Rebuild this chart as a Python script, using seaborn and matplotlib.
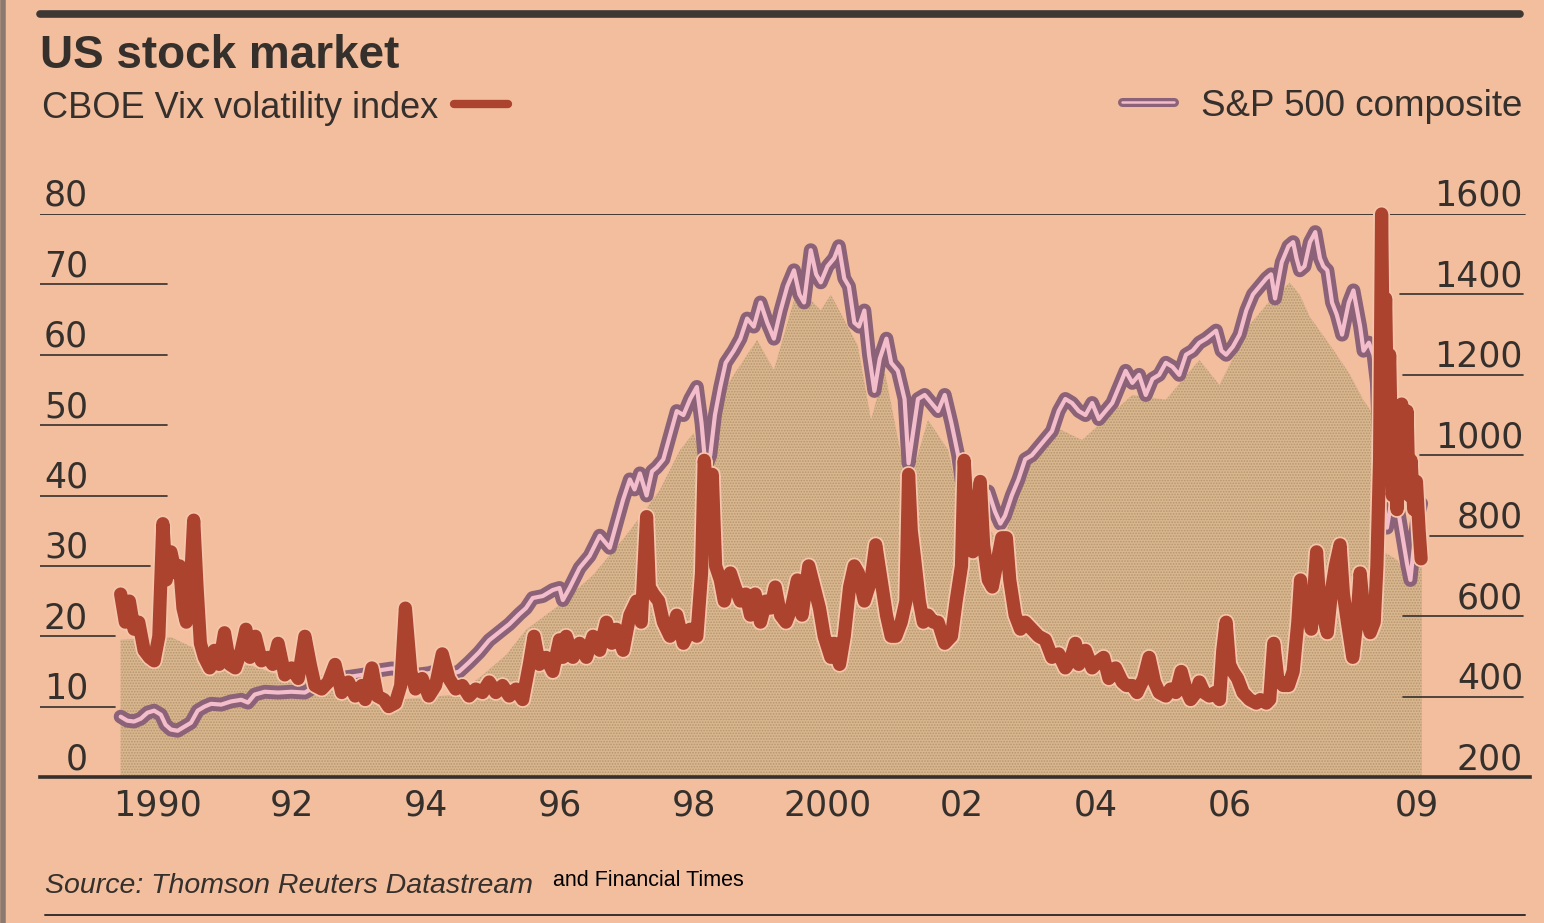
import numpy as np
import pandas as pd
import matplotlib
matplotlib.use("Agg")
import matplotlib.pyplot as plt
import matplotlib.patheffects as pe
import matplotlib.transforms as mtransforms
from matplotlib import font_manager as fm
import seaborn as sns

# ---------------- data ----------------
vix_years = [
    1989.95, 1990.02, 1990.08, 1990.15, 1990.22, 1990.30, 1990.38, 1990.45, 1990.52, 1990.58,
    1990.63, 1990.70, 1990.77, 1990.83, 1990.88, 1990.93, 1991.00, 1991.04, 1991.09, 1991.14,
    1991.20, 1991.28, 1991.35, 1991.42, 1991.50, 1991.58, 1991.66, 1991.75, 1991.82, 1991.88,
    1991.96, 1992.05, 1992.15, 1992.22, 1992.30, 1992.40, 1992.50, 1992.60, 1992.70, 1992.78,
    1992.85, 1992.95, 1993.05, 1993.15, 1993.25, 1993.35, 1993.45, 1993.55, 1993.60, 1993.70,
    1993.78, 1993.88, 1993.95, 1994.05, 1994.13, 1994.20, 1994.28, 1994.35, 1994.45, 1994.55,
    1994.65, 1994.75, 1994.85, 1994.95, 1995.05, 1995.15, 1995.25, 1995.35, 1995.45, 1995.55,
    1995.65, 1995.75, 1995.85, 1995.95, 1996.05, 1996.12, 1996.20, 1996.30, 1996.40, 1996.50,
    1996.55, 1996.60, 1996.70, 1996.80, 1996.90, 1997.00, 1997.10, 1997.20, 1997.28, 1997.35,
    1997.45, 1997.55, 1997.65, 1997.72, 1997.80, 1997.84, 1997.90, 1997.98, 1998.05, 1998.15,
    1998.25, 1998.35, 1998.45, 1998.55, 1998.62, 1998.66, 1998.72, 1998.78, 1998.83, 1998.90,
    1998.96, 1999.05, 1999.12, 1999.20, 1999.28, 1999.35, 1999.42, 1999.50, 1999.58, 1999.65,
    1999.72, 1999.80, 1999.88, 1999.96, 2000.05, 2000.12, 2000.22, 2000.30, 2000.38, 2000.45,
    2000.55, 2000.60, 2000.68, 2000.75, 2000.83, 2000.90, 2000.96, 2001.05, 2001.15, 2001.22,
    2001.30, 2001.38, 2001.45, 2001.52, 2001.60, 2001.67, 2001.71, 2001.75, 2001.80, 2001.87,
    2001.93, 2002.00, 2002.08, 2002.15, 2002.25, 2002.35, 2002.42, 2002.50, 2002.54, 2002.60,
    2002.67, 2002.72, 2002.78, 2002.83, 2002.90, 2002.96, 2003.02, 2003.10, 2003.17, 2003.22,
    2003.30, 2003.38, 2003.45, 2003.55, 2003.65, 2003.75, 2003.85, 2003.95, 2004.05, 2004.12,
    2004.20, 2004.25, 2004.35, 2004.45, 2004.55, 2004.62, 2004.70, 2004.80, 2004.90, 2004.96,
    2005.05, 2005.12, 2005.22, 2005.30, 2005.38, 2005.45, 2005.55, 2005.62, 2005.70, 2005.78,
    2005.85, 2005.92, 2006.00, 2006.05, 2006.12, 2006.20, 2006.28, 2006.35, 2006.40, 2006.45,
    2006.50, 2006.55, 2006.62, 2006.70, 2006.80, 2006.90, 2006.96, 2007.05, 2007.10, 2007.16,
    2007.22, 2007.30, 2007.38, 2007.45, 2007.52, 2007.56, 2007.60, 2007.66, 2007.72, 2007.80,
    2007.85, 2007.92, 2007.96, 2008.03, 2008.08, 2008.15, 2008.20, 2008.26, 2008.34, 2008.40,
    2008.45, 2008.50, 2008.60, 2008.66, 2008.70, 2008.74, 2008.77, 2008.80, 2008.83, 2008.86,
    2008.89, 2008.93, 2008.97, 2009.00, 2009.03, 2009.07, 2009.11, 2009.15, 2009.18, 2009.21,
    2009.25, 2009.29, 2009.33, 2009.36,
]
vix_values = [
    26, 22, 25, 21, 22, 18, 17, 16.5, 20, 36,
    28, 32, 29, 30, 24, 22, 29, 36.5, 27, 19,
    17, 15.5, 18, 16, 20.5, 16, 15.5, 18, 21, 17,
    20, 16.5, 17, 16, 19, 14.5, 15.5, 14, 20, 16,
    13, 12.5, 13.5, 16, 12, 13.5, 11.5, 13, 11, 15.5,
    11.5, 11, 10, 10.5, 13, 24, 15, 12.5, 14, 11.5,
    13, 17.5, 14, 12.5, 13, 11.5, 12.5, 12, 13.5, 12,
    13, 11.5, 12.5, 11, 16, 20, 16, 17, 15, 19.5,
    17, 20, 17, 19, 17, 20, 18, 22, 19, 21,
    18, 23, 25, 22, 37, 27, 26, 25, 22, 20,
    23, 19, 21, 20, 29, 45, 39, 43, 30, 28,
    25, 29, 27, 25, 26, 23, 26, 22, 25, 24,
    27, 23, 22, 24, 28, 23, 30, 27, 24, 20,
    17, 19, 16, 20, 27, 30, 29, 25, 28, 33,
    28, 23, 20, 20, 22, 25, 43, 35, 31, 25,
    22, 23, 22, 22, 19, 20, 25, 30, 45, 35,
    32, 37, 42, 33, 28, 27, 30, 34, 34, 28,
    23, 21, 22, 21, 20, 19.5, 17, 17.5, 15.5, 16.5,
    19, 16, 18, 15.5, 16.5, 17, 14, 15.5, 13.5, 13,
    13, 12, 14, 17, 13.5, 12, 11.5, 12.5, 12, 15,
    12.5, 11, 12, 13.5, 12, 11.5, 12, 11, 18, 22,
    16, 15, 14, 12, 11, 10.5, 11, 10.5, 11, 19,
    14, 13, 13, 15, 22, 28, 24, 26, 21, 32,
    24, 22, 20.5, 27, 30, 33, 26, 22, 17, 22,
    29, 24, 20.5, 22, 30, 45, 80, 55, 68, 50,
    60, 40, 45, 38, 48, 53, 44, 52, 40, 45,
    38, 42, 35, 31,
]

spx_years = [
    1989.95, 1990.05, 1990.15, 1990.25, 1990.35, 1990.45, 1990.55, 1990.62, 1990.70, 1990.80,
    1990.90, 1991.00, 1991.10, 1991.20, 1991.30, 1991.45, 1991.60, 1991.75, 1991.85, 1991.95,
    1992.10, 1992.30, 1992.50, 1992.70, 1992.85, 1993.00, 1993.20, 1993.40, 1993.60, 1993.80,
    1994.00, 1994.15, 1994.25, 1994.40, 1994.55, 1994.70, 1994.85, 1995.00, 1995.15, 1995.30,
    1995.45, 1995.60, 1995.75, 1995.90, 1996.00, 1996.10, 1996.25, 1996.40, 1996.50, 1996.55,
    1996.65, 1996.80, 1996.95, 1997.10, 1997.25, 1997.35, 1997.45, 1997.55, 1997.62, 1997.70,
    1997.80, 1997.88, 1997.95, 1998.05, 1998.15, 1998.25, 1998.35, 1998.45, 1998.55, 1998.62,
    1998.68, 1998.75, 1998.82, 1998.90, 1998.98, 1999.10, 1999.20, 1999.30, 1999.40, 1999.50,
    1999.60, 1999.70, 1999.80, 1999.90, 2000.00, 2000.08, 2000.15, 2000.25, 2000.33, 2000.40,
    2000.50, 2000.60, 2000.67, 2000.75, 2000.82, 2000.90, 2000.97, 2001.05, 2001.12, 2001.20,
    2001.28, 2001.38, 2001.45, 2001.55, 2001.65, 2001.71, 2001.78, 2001.85, 2001.95, 2002.05,
    2002.15, 2002.25, 2002.35, 2002.45, 2002.55, 2002.62, 2002.72, 2002.80, 2002.90, 2003.00,
    2003.08, 2003.15, 2003.25, 2003.35, 2003.45, 2003.55, 2003.65, 2003.75, 2003.85, 2003.95,
    2004.05, 2004.15, 2004.25, 2004.35, 2004.45, 2004.55, 2004.65, 2004.75, 2004.85, 2004.95,
    2005.05, 2005.15, 2005.25, 2005.35, 2005.45, 2005.55, 2005.65, 2005.75, 2005.85, 2005.95,
    2006.05, 2006.15, 2006.30, 2006.38, 2006.45, 2006.55, 2006.65, 2006.75, 2006.85, 2006.95,
    2007.05, 2007.12, 2007.18, 2007.28, 2007.38, 2007.45, 2007.50, 2007.55, 2007.62, 2007.70,
    2007.78, 2007.85, 2007.90, 2007.96, 2008.03, 2008.10, 2008.18, 2008.28, 2008.35, 2008.45,
    2008.50, 2008.58, 2008.65, 2008.70, 2008.75, 2008.80, 2008.85, 2008.90, 2008.96, 2009.02,
    2009.10, 2009.15, 2009.20, 2009.25, 2009.30, 2009.36,
]
spx_values = [
    350, 340, 338, 345, 360, 365, 355, 330, 318, 315,
    325, 335, 365, 375, 382, 380, 388, 392, 385, 405,
    412, 410, 412, 410, 425, 437, 445, 450, 455, 465,
    470, 465, 445, 455, 458, 465, 455, 462, 485, 510,
    540, 560, 580, 605, 620, 645, 650, 665, 670, 640,
    670, 720, 750, 800, 770, 830, 890, 940, 915, 955,
    900, 960, 970, 990, 1050, 1110, 1100, 1140, 1170, 1080,
    970, 1000, 1100, 1170, 1230, 1260, 1290, 1340, 1320, 1380,
    1330, 1290, 1360, 1420, 1460, 1400, 1380, 1510, 1450, 1430,
    1470, 1490, 1520, 1440, 1420, 1330, 1320, 1360, 1250, 1160,
    1240, 1290, 1230, 1210, 1140, 980, 1060, 1140, 1150, 1130,
    1110, 1150, 1080, 1000, 880, 920, 840, 880, 910, 860,
    830, 850, 900, 940, 990, 1000, 1020, 1040, 1060, 1110,
    1140, 1130, 1110, 1100, 1130, 1090, 1110, 1130, 1170, 1210,
    1180, 1200, 1150, 1190, 1200, 1230, 1220, 1200, 1250, 1260,
    1280, 1290, 1310, 1260, 1250, 1270, 1300, 1360, 1400, 1420,
    1440, 1450, 1390, 1480, 1520, 1530, 1490, 1460, 1470, 1530,
    1555, 1490, 1470, 1460, 1380, 1350, 1300, 1380, 1410, 1320,
    1260, 1280, 1250, 1180, 950, 880, 820, 870, 880, 860,
    780, 730, 690, 770, 840, 880,
]

# top edge of the tan shaded area (right-hand scale)
shade_years = [
    1989.95, 1990.70, 1991.10, 1992.00, 1993.00, 1994.00, 1994.90, 1995.30, 1995.70, 1996.00,
    1996.50, 1997.00, 1997.50, 1997.75, 1998.00, 1998.30, 1998.50, 1998.70, 1998.95, 1999.45,
    1999.70, 2000.00, 2000.10, 2000.40, 2000.55, 2000.95, 2001.15, 2001.35, 2001.70, 2002.00,
    2002.30, 2002.50, 2002.85, 2003.10, 2003.40, 2003.90, 2004.30, 2005.05, 2005.55, 2006.05,
    2006.35, 2006.80, 2007.05, 2007.40, 2007.55, 2007.70, 2008.05, 2008.30, 2008.50, 2008.65,
    2008.72, 2008.80, 2009.00, 2009.20, 2009.37,
]
shade_values = [
    541, 548, 516, 471, 421, 391, 404, 446, 503, 566,
    628, 702, 802, 857, 914, 1013, 1055, 963, 1162, 1287,
    1212, 1386, 1411, 1361, 1399, 1274, 1088, 1212, 914, 1088,
    1013, 864, 839, 765, 951, 1070, 1038, 1150, 1138, 1237,
    1175, 1324, 1374, 1429, 1399, 1344, 1262, 1200, 1137, 1100,
    820, 760, 740, 680, 740,
]

vix_ticks = [0, 10, 20, 30, 40, 50, 60, 70, 80]
spx_ticks = [200, 400, 600, 800, 1000, 1200, 1400, 1600]
year_ticks = list(range(1990, 2010))
year_label_pos = [1990.5, 1992.5, 1994.5, 1996.5, 1998.5, 2000.5, 2002.5, 2004.5, 2006.5, 2009.3]
year_labels = ["1990", "92", "94", "96", "98", "2000", "02", "04", "06", "09"]

# ---------------- style ----------------
BG = "#F2BE9E"
FILL = "#D8B68E"
DOT = "#B8956F"
VIX_C = "#AC432F"
HALO = "#F6C6AC"
SPX_OUT = "#8B6277"
SPX_IN = "#F3BDCB"
DARK = "#35302C"

sns.set_theme(style="white")
names = {f.name for f in fm.fontManager.ttflist}
SANS = "Liberation Sans" if "Liberation Sans" in names else "DejaVu Sans"
NUM = "DejaVu Sans"
plt.rcParams["font.family"] = [SANS, "DejaVu Sans"]
plt.rcParams["hatch.linewidth"] = 0.8
plt.rcParams["hatch.color"] = DOT

W, H = 1544, 923
fig = plt.figure(figsize=(W / 100, H / 100), dpi=100)
fig.patch.set_facecolor(BG)


def fx(x):
    return x / W


def fy(y):
    return 1 - y / H


AX_L, AX_R, AX_T, AX_B = 40, 1530, 214, 777
PX_PER_YEAR = 67.0
X0_PX = 124.0  # pixel of 1 Jan 1990

ax = fig.add_axes([fx(AX_L), fy(AX_B), (AX_R - AX_L) / W, (AX_B - AX_T) / H])
ax.set_facecolor("none")
ax.set_xlim(1990 + (AX_L - X0_PX) / PX_PER_YEAR, 1990 + (AX_R - X0_PX) / PX_PER_YEAR)
ax.set_ylim(200, 1600)

ax_v = ax.twinx()
ax_v.set_ylim(0, 80)
ax_v.patch.set_visible(False)


def afrac(px):
    return (px - AX_L) / (AX_R - AX_L)


# shaded area
ax.fill_between(shade_years, 200, shade_values, facecolor=FILL, edgecolor="none", linewidth=0, zorder=1)
ax.fill_between(shade_years, 200, shade_values, facecolor="none", edgecolor=DOT, hatch="......",
                linewidth=0, zorder=1.1)

# gridlines (only visible in the margins, as in the original)
left_ext = {10: 115, 20: 115, 30: 150, 40: 167, 50: 167, 60: 167, 70: 167}
for v, xe in left_ext.items():
    ax_v.axhline(v, xmin=0, xmax=afrac(xe), color=DARK, lw=1.2, zorder=1.5)
ax_v.axhline(80, xmin=0, xmax=afrac(1525), color=DARK, lw=1.3, zorder=1.5)
right_ext = {400: 1403, 600: 1403, 800: 1430, 1000: 1420, 1200: 1403, 1400: 1400}
for s, xs in right_ext.items():
    ax.axhline(s, xmin=afrac(xs), xmax=afrac(1523), color=DARK, lw=1.2, zorder=1.5)

# S&P 500 line (double line: purple outline, pink core)
sns.lineplot(x=spx_years, y=spx_values, ax=ax, color=SPX_IN, linewidth=3.0,
             estimator=None, sort=False, zorder=3)
l_spx = ax.lines[-1]
l_spx.set_path_effects([pe.Stroke(linewidth=10, foreground=SPX_OUT), pe.Normal()])

# VIX line
sns.lineplot(x=vix_years, y=vix_values, ax=ax_v, color=VIX_C, linewidth=9.5,
             estimator=None, sort=False, zorder=4)
l_vix = ax_v.lines[-1]
l_vix.set_clip_on(False)
l_vix.set_path_effects([pe.Stroke(linewidth=12, foreground=HALO), pe.Normal()])

# axes cosmetics
for sp in ax.spines.values():
    sp.set_visible(False)
for sp in ax_v.spines.values():
    sp.set_visible(False)
ax.spines["bottom"].set_visible(True)
ax.spines["bottom"].set_linewidth(2.6)
ax.spines["bottom"].set_color(DARK)
ax.spines["bottom"].set_zorder(5)

ax.set_xticks(year_ticks)
ax.tick_params(axis="x", which="major", direction="in", length=11, width=1.1, color=DARK,
               labelbottom=False, bottom=True)
ax.set_xticks(year_label_pos, minor=True)
ax.set_xticklabels(year_labels, minor=True, fontfamily=NUM)
ax.tick_params(axis="x", which="minor", length=0, pad=8, labelsize=25, labelcolor=DARK)
ax.set_yticks([])
ax_v.set_yticks([])
ax.set_xlabel("")
ax.set_ylabel("")
ax_v.set_ylabel("")

# y labels sitting on their gridlines
tl = mtransforms.offset_copy(mtransforms.blended_transform_factory(ax.transAxes, ax_v.transData),
                             fig=fig, y=8, units="dots")
for v in vix_ticks:
    ax_v.text(afrac(88), v, str(v), transform=tl, ha="right", va="baseline",
              fontsize=25, color=DARK, fontfamily=NUM)
tr = mtransforms.offset_copy(mtransforms.blended_transform_factory(ax.transAxes, ax.transData),
                             fig=fig, y=8, units="dots")
for s in spx_ticks:
    ax.text(afrac(1523), s, str(s), transform=tr, ha="right", va="baseline",
            fontsize=25, color=DARK, fontfamily=NUM)

# titles and legend keys
fig.text(fx(40), fy(68), "US stock market", fontsize=33, fontweight="bold", color=DARK,
         ha="left", va="baseline")
fig.text(fx(42), fy(118), "CBOE Vix volatility index", fontsize=26, color=DARK,
         ha="left", va="baseline")
fig.add_artist(plt.Line2D([fx(454), fx(508)], [fy(104), fy(104)], color=VIX_C, lw=6,
                          solid_capstyle="round"))
fig.text(fx(1522), fy(116), "S&P 500 composite", fontsize=26.5, color=DARK,
         ha="right", va="baseline")
key = plt.Line2D([fx(1122), fx(1174)], [fy(102), fy(102)], color=SPX_IN, lw=1.8,
                 solid_capstyle="round")
key.set_path_effects([pe.Stroke(linewidth=6.5, foreground=SPX_OUT, capstyle="round"), pe.Normal()])
fig.add_artist(key)

# frame rules
fig.add_artist(plt.Line2D([fx(40), fx(1520)], [fy(14), fy(14)], color="#3E3834", lw=5.5))
fig.add_artist(plt.Line2D([fx(45), fx(1525)], [fy(915), fy(915)], color=DARK, lw=1.4))
fig.add_artist(plt.Line2D([fx(3), fx(3)], [0, 1], color="#8C7A70", lw=4))

# source
fig.text(fx(45), fy(893), "Source: Thomson Reuters Datastream", fontsize=20.5, style="italic",
         color=DARK, ha="left", va="baseline")
fig.text(fx(553), fy(880), "and Financial Times", fontsize=15.5, color="black",
         ha="left", va="center")

fig.savefig("out.png", dpi=100, facecolor=BG)
